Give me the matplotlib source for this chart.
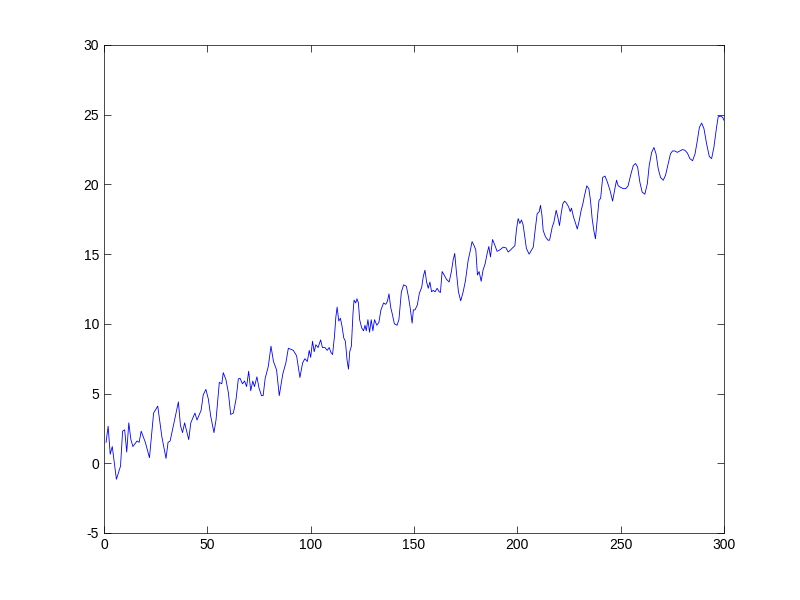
import matplotlib
matplotlib.use("Agg")
import matplotlib.pyplot as plt

# values (x = sample index, y = signal)
xs = [1, 2, 3, 4, 6, 8, 9, 10, 11, 12, 13, 14, 16, 17, 18, 20, 22, 24, 26, 28,
      30, 31, 32, 34, 36, 37, 38, 39, 41, 42, 44, 45, 47, 48, 49.3, 50.5, 51.6, 53.2, 54.2, 55.8,
      57, 57.7, 59, 60.2, 61.3, 62.6, 63.9, 65, 65.8, 67, 68, 69, 70, 71, 72, 72.8, 74, 75, 76.2, 77,
      78, 79.5, 80.8, 82, 83.5, 84.8, 86.5, 88, 89.2, 91.6, 93.2, 94.8, 96.1, 97.2, 98.4, 99.3, 100,
      100.9, 101.7, 102.5, 103.6, 104.8, 105.7, 106.9, 108, 109, 109.8, 110.6, 111.5, 112.2, 112.8,
      113.6, 114.4, 115.2, 116, 116.8, 117.6, 118.3, 118.9, 119.7, 120.5, 121, 121.8, 122.4, 123.1,
      123.7, 124.7, 125.6, 126.3, 126.9, 127.7, 128.5, 129.3, 130.1, 130.9, 132, 133, 134, 135.3,
      136.3, 137.1, 137.9, 138.7, 139.5, 140.5, 141.8, 142.7, 143.9, 145, 146.3, 147.3, 148.1, 149.1,
      149.7, 150.5, 151.6, 152.6, 153.7, 154.5, 155.3, 156.1, 156.9, 157.7, 158.5, 159.3, 160.2,
      161.2, 162.2, 162.8, 163.6, 164.6, 165.7, 167, 168.1, 168.9, 169.7, 170.5, 171.5, 172.6, 173.8,
      174.9, 176.2, 177.3, 178.1, 179.1, 179.9, 180.7, 181.5, 182.5, 183.4, 184.4, 185.4, 186.2, 187,
      188, 189.1, 190.2, 191.5, 193.2, 194.5, 195.6, 196.7, 197.7, 198.8, 199.6, 200.4, 201.2, 202,
      202.8, 203.6, 204.4, 205.7, 206.9, 207.7, 208.6, 209.6, 210.6, 211.2, 211.9, 212.5, 213.6,
      214.8, 215.6, 216.9, 217.7, 218.8, 219.6, 220.4, 221.2, 222, 222.8, 223.6, 224.8, 225.6, 226.2,
      227.2, 228.2, 229, 229.8, 230.9, 231.7, 232.5, 233.6, 234.6, 235.4, 236.2, 237, 237.8, 238.7,
      239.5, 240.3, 241.3, 242.4, 243.5, 244.8, 246.1, 247.2, 248, 248.8, 249.9, 251.2, 252.5, 253.6,
      254.8, 256.1, 257.2, 258.2, 259.3, 260.4, 261.7, 262.9, 263.8, 265, 266.1, 267.1, 268.2, 269.3,
      270.6, 271.7, 273, 274.1, 275.1, 276.2, 277.4, 278.7, 279.9, 281.1, 282.3, 283.5, 284.8, 286,
      287.1, 288.1, 289.2, 290.3, 291.6, 292.9, 294, 295.1, 296.4, 297.2, 298.4, 299.4, 300]
ys = [1.5, 2.66, 0.65, 1.2, -1.15, -0.2, 2.3, 2.4, 0.8, 2.9, 1.7, 1.2, 1.6, 1.5, 2.3, 1.5, 0.4, 3.6, 4.1, 1.9,
      0.35, 1.5, 1.6, 3.0, 4.4, 2.7, 2.2, 2.9, 1.7, 2.9, 3.6, 3.1, 3.8, 4.9, 5.3, 4.6, 3.4, 2.2, 3.1, 5.8,
      5.7, 6.5, 6.0, 5.05, 3.5, 3.6, 4.6, 6.05, 6.1, 5.7, 5.9, 5.5, 6.6, 5.2, 5.9, 5.5, 6.2, 5.4, 4.85, 4.85,
      6.1, 6.95, 8.4, 7.3, 6.7, 4.85, 6.4, 7.2, 8.25, 8.1, 7.7, 6.15, 7.2, 7.5, 7.3, 8.1, 7.6,
      8.75, 8.0, 8.5, 8.3, 8.85, 8.3, 8.3, 8.1, 8.3, 7.95, 7.8, 9.1, 10.5, 11.2,
      10.2, 10.4, 9.8, 9.0, 8.75, 7.4, 6.75, 8.0, 8.4, 10.8, 11.7, 11.5, 11.8, 11.5,
      10.3, 9.7, 9.5, 9.9, 9.5, 10.3, 9.4, 10.3, 9.5, 10.3, 9.9, 10.1, 11.0, 11.5,
      11.4, 11.6, 12.15, 11.2, 10.7, 10.0, 9.9, 10.3, 12.3, 12.8, 12.7, 11.95, 11.2, 10.05,
      11.0, 11.0, 11.35, 12.2, 12.6, 13.4, 13.85, 13.0, 12.55, 13.0, 12.3, 12.4, 12.3,
      12.55, 12.3, 12.25, 13.75, 13.5, 13.2, 13.0, 13.75, 14.55, 15.05, 13.75, 12.3, 11.65, 12.3,
      13.1, 14.55, 15.3, 15.9, 15.6, 15.3, 13.5, 13.75, 13.05, 13.85, 14.3, 15.05, 15.55, 14.8,
      16.05, 15.65, 15.2, 15.3, 15.5, 15.45, 15.15, 15.3, 15.45, 15.6, 16.8, 17.55, 17.2, 17.45,
      17.1, 16.25, 15.4, 15.0, 15.3, 15.5, 16.7, 17.9, 18.05, 18.5, 17.8, 16.7, 16.25,
      16.0, 16.0, 16.95, 17.3, 18.15, 17.65, 17.05, 17.9, 18.6, 18.8, 18.7, 18.4, 18.05, 18.3,
      17.65, 17.2, 16.8, 17.3, 18.15, 18.6, 19.2, 19.9, 19.7, 18.85, 17.55, 16.7, 16.1, 17.55,
      18.85, 19.0, 20.5, 20.6, 20.2, 19.6, 18.8, 19.7, 20.3, 19.9, 19.8, 19.7, 19.7, 19.9,
      20.65, 21.35, 21.5, 21.25, 20.15, 19.45, 19.3, 20.05, 21.35, 22.3, 22.65, 22.2, 21.1, 20.5,
      20.3, 20.65, 21.5, 22.2, 22.4, 22.4, 22.3, 22.4, 22.5, 22.45, 22.25, 21.85, 21.7, 22.2,
      23.15, 24.1, 24.4, 24.0, 22.9, 22.0, 21.85, 22.65, 24.1, 24.85, 24.9, 24.8, 24.6]

x_ticks = [0, 50, 100, 150, 200, 250, 300]
y_ticks = [-5, 0, 5, 10, 15, 20, 25, 30]

plt.rcParams["font.family"] = ["Liberation Sans", "DejaVu Sans"]
plt.rcParams["axes.unicode_minus"] = False

fig = plt.figure(figsize=(8, 6), dpi=100)
ax = fig.add_axes([0.13, 0.1117, 0.775, 0.8133])
ax.plot(xs, ys, color=(0, 0, 1), linewidth=0.6)
ax.set_xlim(0, 300)
ax.set_ylim(-5, 30)
ax.set_xticks(x_ticks)
ax.set_yticks(y_ticks)
ax.tick_params(direction="in", top=True, right=True, labelsize=10, length=5, width=0.5)
for s in ax.spines.values():
    s.set_linewidth(0.5)

fig.savefig("out.png", dpi=100)
